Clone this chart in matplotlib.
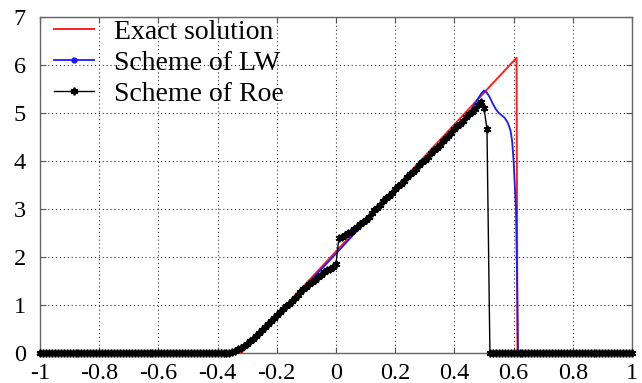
import numpy as np
import matplotlib
matplotlib.use("Agg")
from matplotlib import pyplot as plt

# exact solution (piecewise linear, vertices)
exact_x = [-1.0, -0.32, 0.61, 0.613, 1.0]
exact_y = [0.0, 0.0, 6.15, 0.0, 0.0]

# Lax-Wendroff scheme
lw_x = [-1.0, -0.37, -0.35, -0.33, -0.31, -0.29, -0.27, -0.25, -0.2, -0.1,
        0.0, 0.1, 0.2, 0.3, 0.4, 0.44, 0.46, 0.48, 0.49, 0.50, 0.51, 0.52,
        0.53, 0.54, 0.55, 0.56, 0.57, 0.58, 0.585, 0.59, 0.595, 0.60, 0.608,
        0.611, 0.615, 1.0]
lw_y = [0.0, 0.0, 0.01, 0.05, 0.12, 0.22, 0.34, 0.46, 0.78, 1.42,
        2.07, 2.74, 3.40, 4.05, 4.70, 4.93, 5.10, 5.30, 5.40, 5.47, 5.42, 5.32,
        5.19, 5.08, 5.00, 4.95, 4.90, 4.80, 4.72, 4.62, 4.42, 4.00, 3.00,
        1.90, 0.0, 0.0]

# Roe scheme on the mesh x = -1:0.01:1
roe_x = np.round(np.linspace(-1.0, 1.0, 201), 2)
roe_left = [0.0] * 64          # x = -1.00 .. -0.37
roe_mid = [
    0.01, 0.02, 0.05, 0.08, 0.11, 0.15, 0.19, 0.24, 0.30, 0.36,   # -0.36 .. -0.27
    0.42, 0.48, 0.54, 0.61, 0.67, 0.73, 0.79, 0.85, 0.91, 0.97,   # -0.26 .. -0.17
    1.03, 1.09, 1.15, 1.21, 1.27, 1.33, 1.38, 1.43, 1.48, 1.53,   # -0.16 .. -0.07
    1.58, 1.63, 1.68, 1.72, 1.76, 1.80, 1.86,                     # -0.06 .. 0.00
    2.40, 2.42, 2.45, 2.49, 2.53, 2.58, 2.63, 2.68, 2.73, 2.78,   # 0.01 .. 0.10
    2.84, 2.91, 2.97, 3.03, 3.09, 3.16, 3.22, 3.28, 3.34, 3.41,   # 0.11 .. 0.20
    3.47, 3.53, 3.59, 3.66, 3.72, 3.78, 3.84, 3.91, 3.97, 4.03,   # 0.21 .. 0.30
    4.09, 4.16, 4.22, 4.28, 4.34, 4.41, 4.47, 4.53, 4.59, 4.66,   # 0.31 .. 0.40
    4.72, 4.78, 4.84, 4.91, 4.97, 5.03, 5.09, 5.16, 5.22, 5.10,   # 0.41 .. 0.50
    4.67,                                                         # 0.51
]
roe_right = [0.0] * 49         # x = 0.52 .. 1.00
roe_y = roe_left + roe_mid + roe_right

labels = ["Exact solution", "Scheme of LW", "Scheme of Roe"]
x_ticks = [-1, -0.8, -0.6, -0.4, -0.2, 0, 0.2, 0.4, 0.6, 0.8, 1]
x_ticklabels = ["-1", "-0.8", "-0.6", "-0.4", "-0.2", "0", "0.2", "0.4", "0.6", "0.8", "1"]
y_ticks = [0, 1, 2, 3, 4, 5, 6, 7]

plt.rcParams["font.family"] = ["Liberation Serif", "DejaVu Serif"]

fig = plt.figure(figsize=(6.42, 3.83), dpi=100)
ax = fig.add_axes([40 / 642, 30 / 383, 592 / 642, 336 / 383])

ax.plot(exact_x, exact_y, color="#ff2020", lw=1.4, label=labels[0], zorder=3)
ax.plot(lw_x, lw_y, color="#1a1aff", lw=1.3, marker=".", ms=7,
        markevery=[0], label=labels[1], zorder=4, clip_on=False)
# matlab style asterisk markers
ax.plot(roe_x, roe_y, color="black", lw=1.0, marker=(6, 2, 0), ms=5.5,
        mew=1.3, label=labels[2], zorder=5, clip_on=False)

# cosmetic tuning
ax.set_xlim(-1, 1)
ax.set_ylim(0, 7)
ax.set_xticks(x_ticks)
ax.set_xticklabels(x_ticklabels)
ax.set_yticks(y_ticks)
ax.tick_params(direction="in", top=True, right=True, labelsize=17.5,
               length=4, color="#555555")
ax.tick_params(axis="y", pad=10)
ax.tick_params(axis="x", pad=7)
for s in ax.spines.values():
    s.set_color("#666666")
    s.set_linewidth(1.0)
ax.grid(True, linestyle=(0, (1, 2.5)), color="#333333", lw=0.8)

ax.legend(loc="upper left", bbox_to_anchor=(-0.01, 1.05), frameon=False,
          fontsize=20, handlelength=1.45, handletextpad=0.72,
          labelspacing=0.2, borderaxespad=0.3)

fig.savefig("out.png", dpi=100)
